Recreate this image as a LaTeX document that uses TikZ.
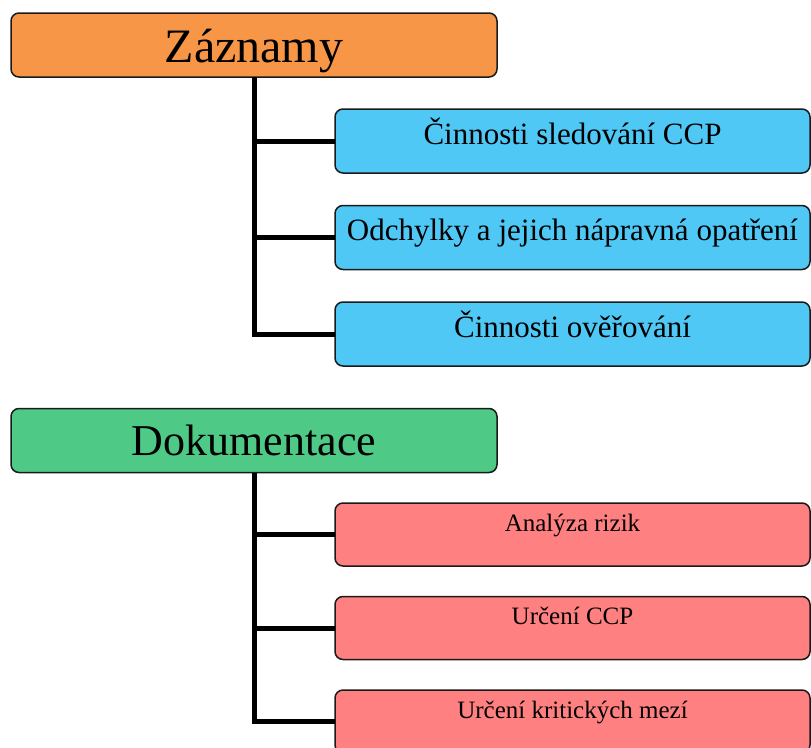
\documentclass[tikz,border=0pt]{standalone}
\usepackage{fontspec}
\setmainfont{Liberation Serif}
\usetikzlibrary{positioning}
\definecolor{recorange}{HTML}{F79646}
\definecolor{recblue}{HTML}{4FC8F5}
\definecolor{docgreen}{HTML}{4FC986}
\definecolor{docred}{HTML}{FF8080}
\definecolor{edgeink}{HTML}{1A1A1A}

\begin{document}
\begin{tikzpicture}[
  x=1pt, y=-1pt,
  node distance=32.5pt,
  head/.style={rectangle, rounded corners=8pt, draw=edgeink, line width=1.5pt,
               minimum width=486pt, inner sep=0pt, outer sep=0pt,
               text height=49pt, text depth=15pt,
               font=\fontsize{48}{50}\selectfont},
  subbox/.style={rectangle, rounded corners=8pt, draw=edgeink, line width=1.5pt,
                 minimum width=475pt, inner sep=0pt, outer sep=0pt},
  recitem/.style={subbox, fill=recblue, text height=35pt, text depth=29pt,
                  font=\fontsize{31}{33}\selectfont},
  docitem/.style={subbox, fill=docred, text height=28pt, text depth=35pt,
                  font=\fontsize{25}{27}\selectfont},
  branch/.style={line width=5pt, draw=black, line join=miter}
]
\useasboundingbox (0,0) rectangle (811,747);
\clip (0,0) rectangle (811,747);
\fill[white] (0,0) rectangle (811,747);

% Záznamy
\node[head, fill=recorange] (zaz) at (254,45) {Záznamy};
\node[recitem, anchor=north west] (z1) at (335,109) {Činnosti sledování CCP};
\node[recitem, below=of z1] (z2) {Odchylky a jejich nápravná opatření};
\node[recitem, below=of z2] (z3) {Činnosti ověřování};

% Dokumentace
\node[head, fill=docgreen, text height=47pt, text depth=17pt,
      font=\fontsize{44}{46}\selectfont] (dok) at (254,440.5) {Dokumentace};
\node[docitem, anchor=north west] (d1) at (335,503) {Analýza rizik};
\node[docitem, below=30.5pt of d1] (d2) {Určení CCP};
\node[docitem, below=30.5pt of d2] (d3) {Určení kritických mezí};

\draw[branch] (zaz.south) |- (z1.west);
\draw[branch] (zaz.south) |- (z2.west);
\draw[branch] (zaz.south) |- (z3.west);
\draw[branch] (dok.south) |- (d1.west);
\draw[branch] (dok.south) |- (d2.west);
\draw[branch] (dok.south) |- (d3.west);
\end{tikzpicture}
\end{document}
